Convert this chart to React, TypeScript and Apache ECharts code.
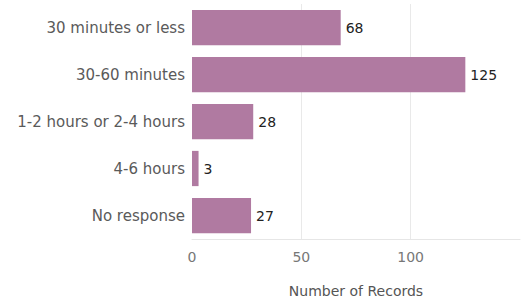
import React, { useEffect, useRef } from "react";
import * as echarts from "echarts";

const categories = [
  "30 minutes or less",
  "30-60 minutes",
  "1-2 hours or 2-4 hours",
  "4-6 hours",
  "No response",
];
const records = [68, 125, 28, 3, 27];
const xTicks = [0, 50, 100, 150];
const axisTitle = "Number of Records";

export default function App() {
  const ref = useRef<HTMLDivElement>(null);
  useEffect(() => {
    if (!ref.current) return;
    const chart = echarts.init(ref.current, undefined, { renderer: "svg" });
    chart.setOption({
      animation: false,
      backgroundColor: "#ffffff",
      textStyle: { fontFamily: "DejaVu Sans" },
      grid: {
        left: 192,
        right: 5,
        top: 4,
        bottom: 61,
        containLabel: false,
        outerBoundsMode: "none",
      },
      xAxis: {
        type: "value",
        min: xTicks[0],
        max: xTicks[xTicks.length - 1],
        interval: 50,
        name: axisTitle,
        nameLocation: "middle",
        nameGap: 45,
        nameTextStyle: { color: "#555", fontSize: 14, fontFamily: "DejaVu Sans" },
        axisLine: { show: true, lineStyle: { color: "#e6e6e6", width: 1 } },
        axisTick: { show: false },
        axisLabel: {
          color: "#777",
          fontSize: 14,
          margin: 11,
          showMaxLabel: false,
        },
        splitLine: {
          show: true,
          lineStyle: {
            color: ["rgba(0,0,0,0)", "#e9e9e9", "#e9e9e9", "rgba(0,0,0,0)"],
            width: 1,
          },
        },
      },
      yAxis: {
        type: "category",
        data: categories,
        inverse: true,
        axisLine: { show: false },
        axisTick: { show: false },
        axisLabel: { color: "#5a5a5a", fontSize: 15, margin: 7 },
        splitLine: { show: false },
      },
      series: [
        {
          type: "bar",
          data: records,
          barCategoryGap: "25%",
          itemStyle: { color: "#b07aa1" },
          label: {
            show: true,
            position: "right",
            distance: 5,
            color: "#222",
            fontSize: 14,
          },
        },
      ],
    });
    return () => chart.dispose();
  }, []);
  return (
    <div
      ref={ref}
      style={{ position: "fixed", left: 0, top: 0, width: 525, height: 300 }}
    />
  );
}
